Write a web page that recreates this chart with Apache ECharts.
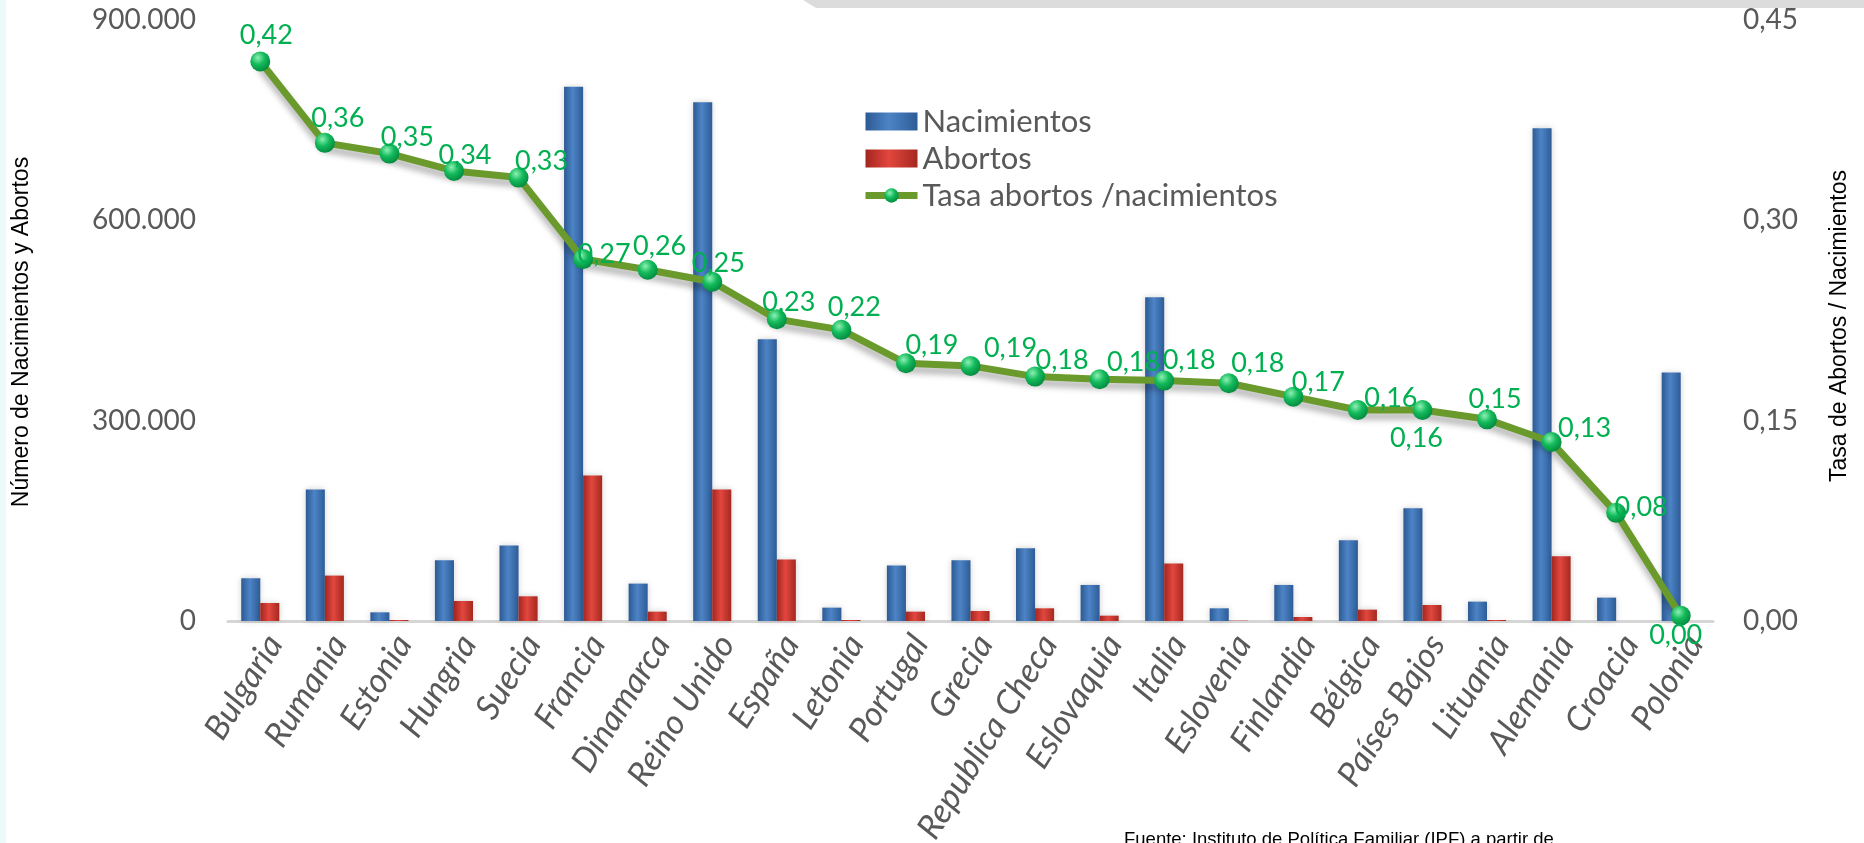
<!DOCTYPE html>
<html>
<head>
<meta charset="utf-8">
<script src="https://cdn.jsdelivr.net/npm/echarts@6/dist/echarts.min.js"></script>
<style>
  html, body { margin: 0; padding: 0; background: #fff; }
  #main { width: 1864px; height: 843px; }
</style>
</head>
<body>
<div id="main"></div>
<script>
// paises ordenados por tasa abortos/nacimientos
var paises = ['Bulgaria', 'Rumania', 'Estonia', 'Hungria', 'Suecia', 'Francia', 'Dinamarca',
  'Reino Unido', 'España', 'Letonia', 'Portugal', 'Grecia', 'Republica Checa', 'Eslovaquia',
  'Italia', 'Eslovenia', 'Finlandia', 'Bélgica', 'Países Bajos', 'Lituania', 'Alemania',
  'Croacia', 'Polonia'];
var nacimientos = [64000, 197000, 13000, 91000, 113000, 800000, 56000, 777000, 422000, 20000,
  83000, 91000, 109000, 54000, 485000, 19000, 54000, 121000, 169000, 29000, 738000, 35000, 372000];
var abortos = [27000, 68000, 1500, 30000, 37000, 218000, 14000, 197000, 92000, 1500,
  14000, 15000, 19000, 8000, 86000, 500, 6000, 17000, 24000, 1500, 97000, 0, 0];
var tasa = [0.419, 0.358, 0.350, 0.337, 0.332, 0.271, 0.263, 0.254, 0.226, 0.218,
  0.193, 0.191, 0.183, 0.181, 0.180, 0.178, 0.168, 0.158, 0.158, 0.151, 0.134, 0.081, 0.004];
var ejeIzq = [0, 300000, 600000, 900000];
var ejeDer = [0, 0.15, 0.30, 0.45];

// desplazamiento de las etiquetas verdes respecto al punto (solo estilo)
var etiquetaDesp = [[6, -26], [13, -25], [18, -16], [11, -16], [23, -16], [21, -5], [12, -23],
  [6, -18], [12, -17], [13, -23], [26, -18], [40, -18], [27, -16], [34, -17], [25, -20],
  [29, -20], [25, -14], [33, -12], [-6, 28], [8, -20], [33, -14], [25, -6], [-5, 20]];

var fuente = 'Lato, "Noto Sans", sans-serif';
var gris = '#595959';

var chart = echarts.init(document.getElementById('main'));

var azul = new echarts.graphic.LinearGradient(0, 0, 1, 0, [
  { offset: 0, color: '#2c5a94' },
  { offset: 0.45, color: '#4d84c6' },
  { offset: 1, color: '#2d5c97' }
]);
var rojo = new echarts.graphic.LinearGradient(0, 0, 1, 0, [
  { offset: 0, color: '#a3251e' },
  { offset: 0.45, color: '#e2473e' },
  { offset: 1, color: '#a52820' }
]);
var bola = new echarts.graphic.RadialGradient(0.38, 0.32, 0.75, [
  { offset: 0, color: '#8ef0b4' },
  { offset: 0.45, color: '#14bb5c' },
  { offset: 1, color: '#00843c' }
]);

function miles(v) {
  return String(v).replace(/\B(?=(\d{3})+(?!\d))/g, '.');
}

var option = {
  backgroundColor: '#fff',
  animation: false,
  textStyle: { fontFamily: fuente },
  grid: {
    left: 228, right: 151, top: 20, bottom: 222,
    containLabel: false,
    outerBoundsMode: 'none'
  },
  legend: {
    orient: 'vertical',
    left: 862,
    top: 106,
    padding: 0,
    itemWidth: 52,
    itemHeight: 18,
    itemGap: 6,
    textStyle: { fontSize: 31, color: gris, fontFamily: fuente },
    lineStyle: { width: 7, color: '#6a9a2b' },
    data: [
      { name: 'Nacimientos', icon: 'rect' },
      { name: 'Abortos', icon: 'rect' },
      { name: 'Tasa abortos /nacimientos' }
    ]
  },
  xAxis: {
    type: 'category',
    data: paises,
    axisLine: { lineStyle: { color: '#d6d6d6', width: 3 } },
    axisTick: { show: false },
    axisLabel: {
      interval: 0,
      rotate: 58,
      margin: 8,
      fontSize: 34,
      fontStyle: 'italic',
      verticalAlign: 'top',
      color: gris,
      fontFamily: fuente
    }
  },
  yAxis: [{
    type: 'value',
    min: 0,
    max: 900000,
    interval: 300000,
    splitLine: { show: false },
    axisLine: { show: false },
    axisTick: { show: false },
    axisLabel: {
      margin: 32,
      fontSize: 28,
      color: gris,
      formatter: function (v) { return miles(v); },
      customValues: ejeIzq
    }
  }, {
    type: 'value',
    min: 0,
    max: 0.45,
    interval: 0.15,
    splitLine: { show: false },
    axisLine: { show: false },
    axisTick: { show: false },
    axisLabel: {
      margin: 30,
      fontSize: 28,
      color: gris,
      formatter: function (v) { return v.toFixed(2).replace('.', ','); },
      customValues: ejeDer
    }
  }],
  series: [{
    name: 'Nacimientos',
    type: 'bar',
    data: nacimientos,
    barGap: '0%',
    barCategoryGap: '41%',
    itemStyle: {
      color: azul,
      shadowColor: 'rgba(0,0,0,0.18)',
      shadowBlur: 6
    }
  }, {
    name: 'Abortos',
    type: 'bar',
    data: abortos,
    itemStyle: {
      color: rojo,
      shadowColor: 'rgba(0,0,0,0.18)',
      shadowBlur: 6
    }
  }, {
    name: 'Tasa abortos /nacimientos',
    type: 'line',
    yAxisIndex: 1,
    z: 5,
    symbol: 'circle',
    symbolSize: 20,
    lineStyle: {
      color: '#6a9a2b',
      width: 7,
      shadowColor: 'rgba(0,0,0,0.3)',
      shadowBlur: 6,
      shadowOffsetY: 6
    },
    itemStyle: { color: bola, borderWidth: 0 },
    label: {
      show: true,
      position: 'inside',
      fontSize: 27,
      color: '#00b050',
      fontFamily: fuente,
      formatter: function (p) { return p.value.toFixed(2).replace('.', ','); }
    },
    data: tasa.map(function (v, i) {
      return { value: v, label: { offset: etiquetaDesp[i] } };
    })
  }],
  graphic: [
    {
      type: 'polygon',
      shape: { points: [[803, 0], [1864, 0], [1864, 8], [816, 8]] },
      style: { fill: '#dcdcdc' },
      silent: true
    },
    {
      type: 'rect',
      shape: { x: 0, y: 0, width: 6, height: 843 },
      style: { fill: '#eefafa' },
      silent: true
    },
    {
      type: 'text',
      x: 22,
      y: 332,
      rotation: Math.PI / 2,
      style: {
        text: 'Número de Nacimientos y Abortos',
        fontSize: 23,
        fontFamily: '"Liberation Sans", Arial, sans-serif',
        fill: '#000',
        align: 'center',
        verticalAlign: 'middle'
      }
    },
    {
      type: 'text',
      x: 1840,
      y: 326,
      rotation: Math.PI / 2,
      style: {
        text: 'Tasa de Abortos / Nacimientos',
        fontSize: 23,
        fontFamily: '"Liberation Sans", Arial, sans-serif',
        fill: '#000',
        align: 'center',
        verticalAlign: 'middle'
      }
    },
    {
      type: 'text',
      x: 1124,
      y: 830,
      style: {
        text: 'Fuente: Instituto de Política Familiar (IPF) a partir de',
        fontSize: 18.5,
        fontFamily: '"Liberation Sans", Arial, sans-serif',
        fill: '#000',
        align: 'left',
        verticalAlign: 'top'
      }
    }
  ]
};

chart.setOption(option);
</script>
</body>
</html>
